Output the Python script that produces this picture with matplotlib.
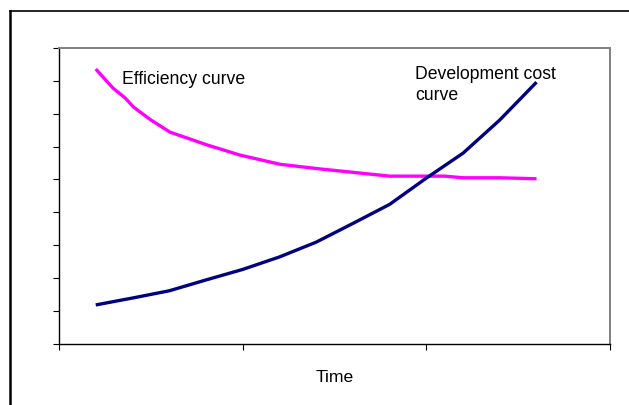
import matplotlib
matplotlib.use("Agg")
import matplotlib.pyplot as plt
from matplotlib.lines import Line2D

plt.rcParams["font.family"] = ["Liberation Sans", "DejaVu Sans"]

# efficiency curve (magenta)
eff_x = [1.0, 1.47, 1.8, 2.03, 2.5, 3.02, 4.03, 4.93, 6.02, 7.1, 9.0, 10.5, 11.0, 12.0, 13.0]
eff_y = [8.36, 7.78, 7.48, 7.20, 6.81, 6.44, 6.05, 5.74, 5.46, 5.32, 5.10, 5.10, 5.05, 5.05, 5.02]

# development cost curve (navy)
cost_x = [1, 2, 3, 4, 5, 6, 7, 8, 9, 10, 11, 12, 13]
cost_y = [1.18, 1.39, 1.61, 1.94, 2.26, 2.64, 3.09, 3.66, 4.24, 5.04, 5.80, 6.81, 7.96]

x_ticks = [0, 5, 10, 15]
y_ticks = list(range(10))

W, H = 629, 405
fig = plt.figure(figsize=(W / 100, H / 100), dpi=100)
ax = fig.add_axes([59 / W, 1 - 343.7 / H, (610 - 59) / W, (343.7 - 48) / H])

ax.plot(eff_x, eff_y, color="#ff00ff", lw=2.4, solid_capstyle="butt")
ax.plot(cost_x, cost_y, color="#000080", lw=2.4, solid_capstyle="butt")

ax.set_xlim(0, 15)
ax.set_ylim(0, 9)
ax.set_xticks(x_ticks)
ax.set_yticks(y_ticks)
ax.set_xticklabels([])
ax.set_yticklabels([])
ax.tick_params(direction="out", length=4.5, width=0.8, color="black")
for side in ("left", "bottom"):
    ax.spines[side].set_color("black")
    ax.spines[side].set_linewidth(1.0)
for side in ("top", "right"):
    ax.spines[side].set_color("#808080")
    ax.spines[side].set_linewidth(1.4)

ax.text(1.72, 8.05, "Efficiency curve", fontsize=12.7, va="center", ha="left")
ax.text(9.7, 7.88, "Development cost\ncurve", fontsize=12.7, va="center", ha="left",
        linespacing=1.35)
ax.set_xlabel("Time", fontsize=12.6, labelpad=11)

# outer frame (left and top edges visible)
fx, fy = 10 / W, 1 - 11 / H
fig.add_artist(Line2D([fx, fx], [0, fy], color="black", lw=1.8))
fig.add_artist(Line2D([fx, 1], [fy, fy], color="black", lw=1.2))

fig.savefig("out.png", dpi=100)
